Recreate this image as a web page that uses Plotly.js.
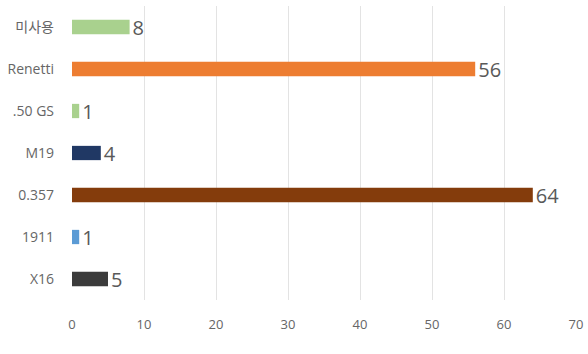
<!DOCTYPE html>
<html><head><meta charset="utf-8">
<script src="https://cdn.plot.ly/plotly-3.0.1.min.js"></script>
<style>html,body{margin:0;padding:0;background:#fff;}#chart{width:588px;height:354px;}</style>
</head><body><div id="chart"></div>
<script>
const categories = ["미사용", "Renetti", ".50 GS", "M19", "0.357", "1911", "X16"];
const values = [8, 56, 1, 4, 64, 1, 5];
const barColors = ["#A9D18E", "#ED7D31", "#A9D18E", "#203864", "#843C0C", "#5B9BD5", "#3B3B3B"];
const xTicks = [0, 10, 20, 30, 40, 50, 60, 70];

const trace = {
  type: "bar",
  orientation: "h",
  y: categories,
  x: values,
  marker: {color: barColors},
  width: 0.34,
  text: values.map(String),
  textposition: "outside",
  constraintext: "none",
  cliponaxis: false,
  textfont: {family: "Open Sans, Noto Sans CJK KR, sans-serif", size: 20, color: "#595959"},
  hoverinfo: "none"
};

const layout = {
  width: 588, height: 354,
  margin: {l: 72, r: 12, t: 6, b: 54},
  paper_bgcolor: "#fff", plot_bgcolor: "#fff",
  showlegend: false,
  font: {family: "Open Sans, Noto Sans CJK KR, sans-serif", color: "#595959", size: 12},
  uniformtext: {mode: false},
  xaxis: {
    range: [0, 70],
    tickvals: xTicks,
    ticktext: xTicks.map(String),
    showgrid: true, gridcolor: "#e3e3e3", gridwidth: 1,
    zeroline: false, showline: false,
    ticks: "", ticklabelstandoff: 15,
    tickfont: {size: 13, color: "#666666"}
  },
  yaxis: {
    type: "category",
    categoryorder: "array",
    categoryarray: categories.slice().reverse(),
    autorange: true,
    showgrid: false, zeroline: false, showline: false,
    ticks: "", ticklabelstandoff: 17,
    tickfont: {family: "Open Sans, Noto Sans CJK KR, sans-serif", size: 14, color: "#666666"}
  },
  bargap: 0.66
};

Plotly.newPlot("chart", [trace], layout, {displayModeBar: false, staticPlot: true});
</script>
</body></html>
